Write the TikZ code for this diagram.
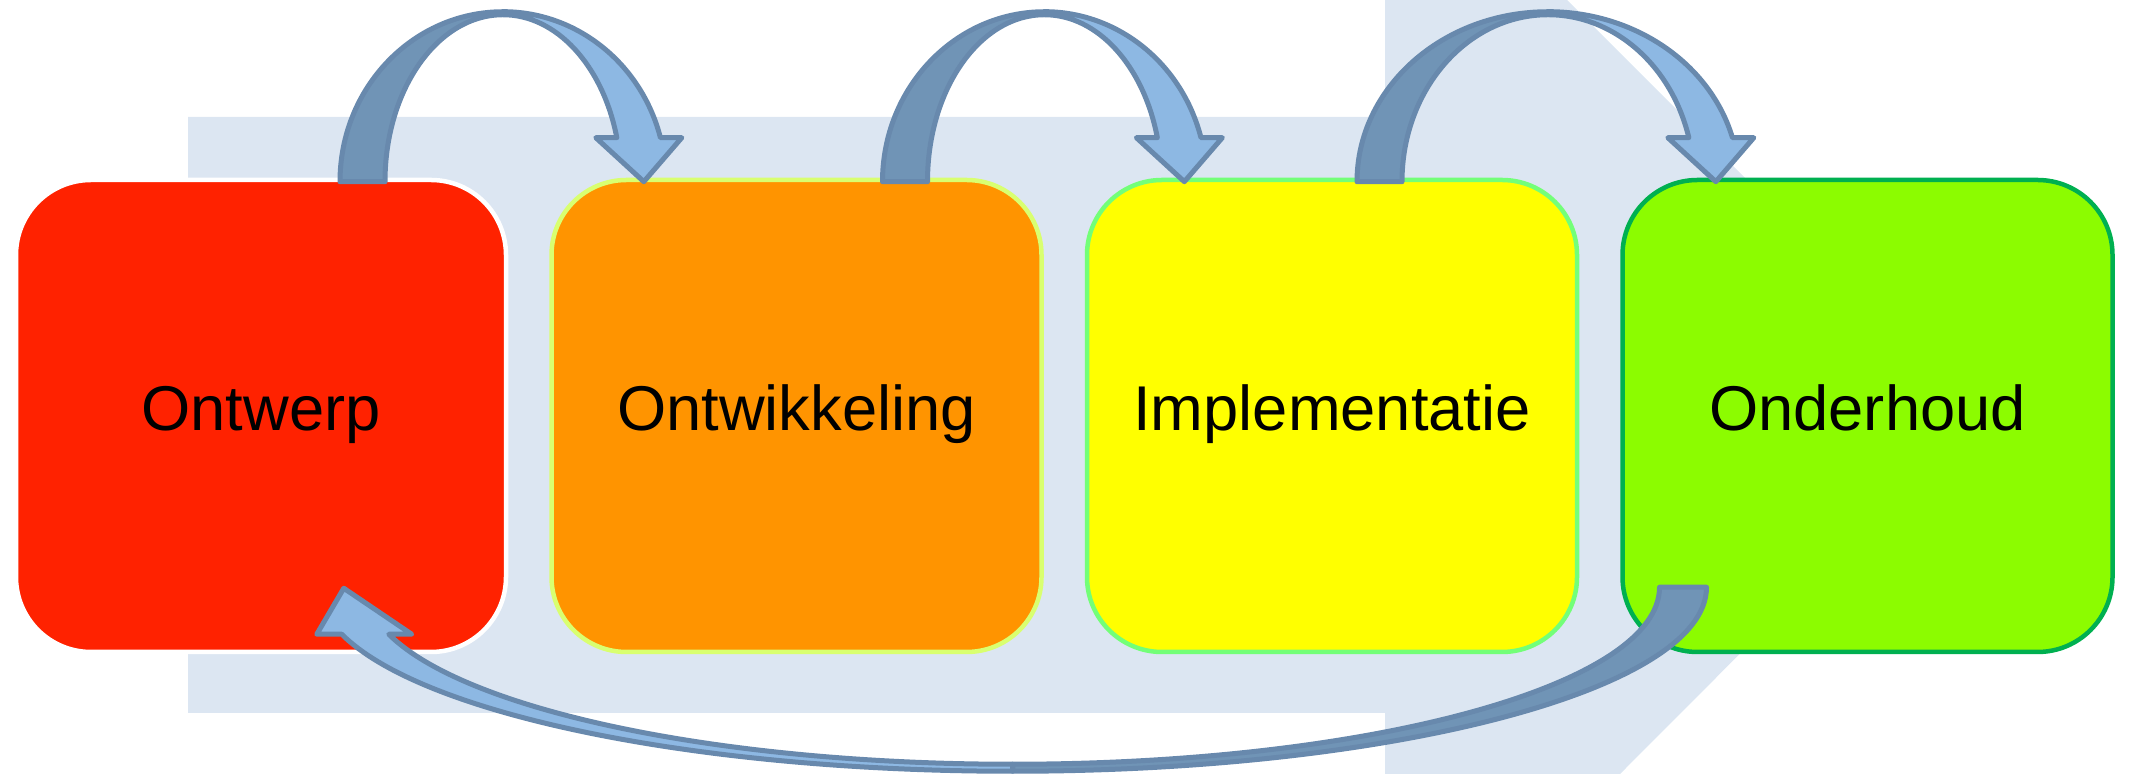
\documentclass[tikz,border=0pt]{standalone}
\usepackage{fontspec}
\setmainfont{Liberation Sans}
\usetikzlibrary{positioning,calc}

\definecolor{achter}{HTML}{DCE6F2}
\definecolor{rood}{HTML}{FF2200}
\definecolor{oranje}{HTML}{FF9400}
\definecolor{geel}{HTML}{FFFF00}
\definecolor{groen}{HTML}{8CFC00}
\definecolor{randgeel}{HTML}{D9FF70}
\definecolor{randlicht}{HTML}{73FF78}
\definecolor{randgroen}{HTML}{00B050}
\definecolor{pijlrand}{HTML}{6889AD}
\definecolor{pijldonker}{HTML}{7094B6}
\definecolor{pijllicht}{HTML}{8DB8E3}

\tikzset{
  fase/.style={rounded corners=0.75cm, minimum width=4.9cm, minimum height=4.72cm,
    line width=0.045cm, text height=12pt, text depth=4pt,
    font=\fontsize{18}{22}\selectfont},
  donker/.style={fill=pijldonker, draw=pijlrand, line width=0.05cm, line join=round},
  licht/.style={fill=pijllicht, draw=pijlrand, line width=0.05cm, line join=round}
}

\newcommand{\bocht}[2]{%
  \pgfmathsetmacro{\binnen}{#2-0.45}
  \coordinate (m) at ($(#1)+(#2,0)$);
  \filldraw[donker] (#1) arc[start angle=180,end angle=90,x radius=#2,y radius=1.70]
    -- ++(0,-0.03) arc[start angle=90,end angle=180,x radius=\binnen,y radius=1.67] -- cycle;
  \filldraw[licht] ($(m)+(0,1.67)$) arc[start angle=90,end angle=15.3,x radius=\binnen,y radius=1.67]
    -- ++(-0.21,0) -- ++(0.48,-0.44) -- ++(0.38,0.44) -- ++(-0.214,0)
    arc[start angle=15,end angle=90,x radius=#2,y radius=1.70] -- cycle;
}

\begin{document}
\begin{tikzpicture}
  \useasboundingbox (0,0) rectangle (21.39,7.74);

  \fill[achter] (1.88,6.57) -- (13.85,6.57) -- (13.85,7.74) -- (15.67,7.74) -- (19.80,3.61)
    -- (16.20,0) -- (13.85,0) -- (13.85,0.61) -- (1.88,0.61) -- cycle;

  \node[fase, fill=rood, draw=white] (ontwerp) at (2.61,3.58) {Ontwerp};
  \node[fase, fill=oranje, draw=randgeel, right=0.41cm of ontwerp] (ontwikkeling) {Ontwikkeling};
  \node[fase, fill=geel, draw=randlicht, right=0.41cm of ontwikkeling] (implementatie) {Implementatie};
  \node[fase, fill=groen, draw=randgroen, right=0.41cm of implementatie] (onderhoud) {Onderhoud};

  \coordinate (a1) at ($(ontwerp.north)+(0.79,-0.04)$);
  \coordinate (a2) at ($(ontwikkeling.north)+(0.86,-0.04)$);
  \coordinate (a3) at ($(implementatie.north)+(0.25,-0.04)$);
  \coordinate (terug) at ($(onderhoud.south)+(-1.61,0.67)$);

  \bocht{a1}{1.63}
  \bocht{a2}{1.62}
  \bocht{a3}{1.91}

  \filldraw[donker] (terug) arc[start angle=0,end angle=-90,x radius=6.94,y radius=1.84]
    -- ++(0,0.07) arc[start angle=-90,end angle=0,x radius=6.47,y radius=1.77] -- cycle;
  \filldraw[licht] ($(terug)+(-6.94,-1.77)$) arc[start angle=-90,end angle=-164.6,x radius=6.47,y radius=1.77]
    -- ++(0.23,0) -- ++(-0.68,0.46) -- ++(-0.27,-0.46) -- ++(0.25,0)
    arc[start angle=-165.2,end angle=-90,x radius=6.94,y radius=1.84] -- cycle;
\end{tikzpicture}
\end{document}
